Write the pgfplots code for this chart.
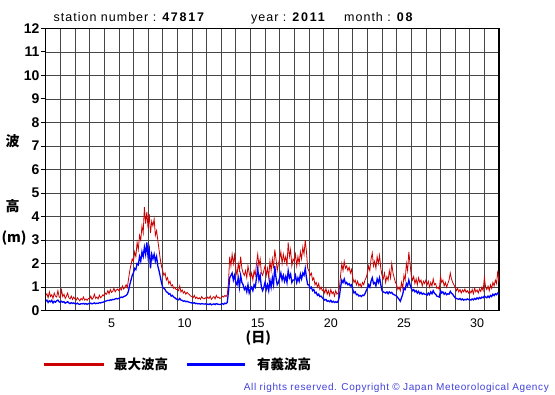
\documentclass[border=0pt]{standalone}
\usepackage{pgfplots}
\pgfplotsset{compat=1.18}
\usepackage{pgfplotstable}
\usepackage{fontspec}
\setmainfont{Liberation Sans}
\newfontfamily\jp{Noto Sans CJK JP}
\newfontfamily\titlefont{Liberation Sans}[LetterSpace=8]
\newfontfamily\digfont{Liberation Sans}[LetterSpace=14]
\newfontfamily\copyfont{Liberation Sans}[LetterSpace=6]
\definecolor{maxred}{RGB}{204,0,0}
\definecolor{sigblue}{RGB}{0,0,255}
\definecolor{copyblue}{RGB}{64,64,220}
\definecolor{gridgray}{RGB}{70,70,70}

% maximum wave height, every 2 hours, 12 values per day
\pgfplotstableread[row sep=\\]{v\\
0.65\\0.72\\0.55\\0.80\\0.60\\0.68\\0.52\\0.75\\0.62\\0.58\\0.85\\0.60\\
0.55\\0.88\\0.60\\0.70\\0.52\\0.62\\0.75\\0.55\\0.50\\0.62\\0.48\\0.58\\
0.50\\0.45\\0.55\\0.48\\0.42\\0.52\\0.46\\0.58\\0.45\\0.50\\0.44\\0.52\\
0.50\\0.62\\0.48\\0.55\\0.70\\0.52\\0.58\\0.50\\0.66\\0.55\\0.60\\0.68\\
0.62\\0.75\\0.70\\0.85\\0.72\\0.90\\0.78\\0.82\\0.95\\0.80\\0.88\\0.92\\
0.85\\0.95\\0.88\\1.05\\0.92\\1.00\\1.10\\0.98\\1.35\\1.70\\1.95\\2.20\\
2.10\\2.50\\2.30\\2.90\\2.60\\3.20\\3.00\\3.60\\3.30\\4.40\\3.70\\4.20\\
3.50\\4.10\\3.30\\3.80\\3.60\\3.90\\3.20\\3.40\\3.00\\2.60\\2.20\\1.90\\
1.70\\1.50\\1.60\\1.30\\1.40\\1.15\\1.25\\1.05\\1.10\\0.95\\1.00\\0.90\\
0.90\\0.85\\1.05\\0.80\\0.88\\0.75\\0.82\\0.70\\0.78\\0.72\\0.68\\0.62\\
0.60\\0.55\\0.65\\0.52\\0.58\\0.50\\0.55\\0.48\\0.60\\0.52\\0.50\\0.55\\
0.50\\0.58\\0.52\\0.62\\0.48\\0.55\\0.60\\0.50\\0.65\\0.55\\0.58\\0.52\\
0.55\\0.62\\0.58\\0.65\\0.60\\0.68\\1.20\\2.30\\1.90\\2.40\\2.00\\2.35\\
1.80\\1.50\\2.00\\1.70\\2.30\\1.80\\1.60\\1.50\\1.70\\1.40\\1.90\\1.60\\
1.40\\1.60\\1.30\\1.70\\1.50\\2.00\\2.40\\1.90\\2.20\\1.60\\1.50\\1.70\\
1.90\\1.50\\1.80\\1.40\\2.10\\1.70\\2.20\\1.80\\2.60\\2.20\\1.70\\2.00\\
2.20\\2.50\\2.00\\2.40\\2.10\\2.30\\1.90\\2.90\\2.30\\2.60\\1.90\\2.20\\
2.10\\2.40\\1.90\\2.30\\2.00\\2.50\\2.20\\2.70\\2.40\\3.00\\2.50\\1.80\\
1.70\\1.50\\1.60\\1.30\\1.40\\1.10\\1.20\\1.00\\1.15\\0.90\\1.00\\0.85\\
0.90\\0.75\\0.95\\0.70\\0.85\\0.65\\0.90\\0.72\\0.80\\0.62\\0.85\\0.70\\
0.75\\0.95\\1.50\\2.00\\1.70\\2.10\\1.80\\1.90\\1.70\\1.85\\1.60\\1.75\\
1.40\\1.20\\1.30\\1.10\\1.25\\1.05\\1.15\\1.00\\1.20\\1.10\\1.30\\1.40\\
1.60\\1.90\\1.70\\2.20\\2.45\\1.90\\2.10\\1.80\\2.30\\2.00\\2.35\\1.80\\
1.50\\1.35\\1.60\\1.20\\1.45\\1.30\\1.70\\1.40\\2.00\\1.60\\1.40\\1.20\\
1.10\\0.90\\1.00\\0.85\\1.20\\0.95\\1.50\\1.30\\2.00\\1.70\\2.50\\2.00\\
1.50\\1.30\\1.45\\1.15\\1.35\\1.10\\1.40\\1.20\\1.30\\1.05\\1.25\\1.15\\
1.30\\1.10\\1.25\\1.00\\1.20\\1.05\\1.35\\1.10\\1.15\\0.95\\1.00\\0.90\\
1.45\\1.20\\1.30\\1.05\\1.20\\1.00\\1.15\\1.30\\1.60\\1.35\\1.20\\1.10\\
1.00\\0.85\\0.95\\0.80\\0.90\\0.75\\0.88\\0.80\\0.92\\0.78\\0.85\\0.75\\
0.85\\0.75\\0.90\\0.72\\0.95\\0.80\\0.88\\0.75\\0.92\\0.82\\1.00\\0.85\\
1.40\\1.00\\0.90\\1.05\\0.85\\1.10\\0.95\\1.20\\1.05\\1.30\\1.15\\1.70\\
1.20\\
}\maxtab

% significant wave height
\pgfplotstableread[row sep=\\]{v\\
0.40\\0.45\\0.35\\0.42\\0.38\\0.44\\0.33\\0.40\\0.36\\0.42\\0.45\\0.38\\
0.35\\0.40\\0.36\\0.38\\0.32\\0.35\\0.38\\0.33\\0.30\\0.34\\0.31\\0.33\\
0.30\\0.29\\0.32\\0.28\\0.27\\0.30\\0.29\\0.31\\0.28\\0.30\\0.27\\0.30\\
0.30\\0.32\\0.29\\0.31\\0.33\\0.30\\0.32\\0.31\\0.34\\0.33\\0.35\\0.36\\
0.38\\0.40\\0.42\\0.44\\0.43\\0.46\\0.45\\0.48\\0.47\\0.50\\0.52\\0.50\\
0.52\\0.55\\0.58\\0.56\\0.60\\0.62\\0.65\\0.70\\0.85\\1.10\\1.30\\1.50\\
1.60\\1.80\\1.75\\2.00\\1.95\\2.30\\2.10\\2.50\\2.30\\2.70\\2.40\\2.90\\
2.30\\2.60\\1.80\\2.40\\2.20\\2.40\\2.10\\2.30\\1.90\\1.70\\1.45\\1.20\\
1.00\\0.95\\0.90\\0.80\\0.78\\0.70\\0.72\\0.62\\0.65\\0.58\\0.55\\0.50\\
0.48\\0.46\\0.52\\0.45\\0.44\\0.40\\0.42\\0.38\\0.40\\0.37\\0.36\\0.34\\
0.33\\0.32\\0.34\\0.30\\0.31\\0.29\\0.30\\0.28\\0.30\\0.29\\0.28\\0.29\\
0.27\\0.28\\0.26\\0.30\\0.25\\0.27\\0.29\\0.26\\0.30\\0.28\\0.27\\0.26\\
0.28\\0.30\\0.27\\0.32\\0.30\\0.35\\0.80\\1.40\\1.50\\1.60\\1.30\\1.50\\
1.20\\1.10\\1.40\\1.00\\1.50\\1.20\\1.10\\0.90\\1.00\\0.80\\1.10\\0.75\\
0.90\\1.00\\0.85\\1.10\\1.00\\1.40\\1.80\\1.30\\1.50\\1.00\\0.85\\1.00\\
1.20\\0.90\\1.10\\0.85\\1.30\\1.00\\1.40\\1.10\\1.90\\1.40\\1.10\\1.20\\
1.40\\1.60\\1.30\\1.50\\1.25\\1.45\\1.20\\1.70\\1.40\\1.55\\1.20\\1.30\\
1.30\\1.50\\1.20\\1.40\\1.25\\1.55\\1.35\\1.60\\1.50\\1.80\\1.40\\1.10\\
1.10\\0.95\\1.00\\0.85\\0.90\\0.75\\0.78\\0.65\\0.70\\0.60\\0.62\\0.55\\
0.50\\0.45\\0.48\\0.40\\0.42\\0.38\\0.44\\0.36\\0.40\\0.35\\0.38\\0.35\\
0.40\\0.60\\1.00\\1.30\\1.20\\1.35\\1.15\\1.20\\1.10\\1.15\\1.05\\1.10\\
0.90\\0.75\\0.80\\0.68\\0.70\\0.62\\0.65\\0.60\\0.66\\0.64\\0.72\\0.85\\
0.95\\1.10\\1.00\\1.25\\1.40\\1.15\\1.20\\1.05\\1.35\\1.20\\1.40\\1.10\\
0.85\\0.80\\0.78\\0.75\\0.80\\0.72\\0.80\\0.75\\0.78\\0.70\\0.68\\0.65\\
0.62\\0.55\\0.48\\0.40\\0.55\\0.70\\0.95\\0.90\\1.15\\1.05\\1.30\\1.10\\
0.95\\0.85\\0.90\\0.80\\0.85\\0.75\\0.82\\0.72\\0.78\\0.70\\0.74\\0.70\\
0.70\\0.66\\0.75\\0.68\\0.80\\0.72\\0.85\\0.74\\0.70\\0.62\\0.60\\0.58\\
0.85\\0.75\\0.80\\0.70\\0.76\\0.68\\0.72\\0.70\\0.82\\0.74\\0.70\\0.62\\
0.55\\0.52\\0.50\\0.48\\0.52\\0.46\\0.50\\0.45\\0.48\\0.46\\0.50\\0.47\\
0.48\\0.45\\0.50\\0.46\\0.52\\0.48\\0.55\\0.50\\0.56\\0.52\\0.58\\0.55\\
0.62\\0.58\\0.55\\0.62\\0.56\\0.65\\0.60\\0.70\\0.64\\0.72\\0.68\\0.75\\
0.70\\
}\sigtab

\begin{document}
\begin{tikzpicture}[x=1pt,y=1pt]
\path[use as bounding box] (0,0) rectangle (555,395);
\begin{axis}[
  at={(45.7pt,84.3pt)}, anchor=south west,
  scale only axis, width=453.3pt, height=282.4pt,
  xmin=1, xmax=32, ymin=0, ymax=12,
  xtick={5.5,10.5,15.5,20.5,25.5,30.5},
  xticklabels={5,10,15,20,25,30},
  minor xtick={1,...,32},
  ytick={0,...,12},
  xminorgrids=true, ymajorgrids=true, xmajorgrids=false,
  grid style={gridgray, line width=0.6pt},
  minor grid style={gridgray, line width=0.6pt},
  xtick style={draw=none},
  minor tick length=0pt,
  ytick style={black, line width=0.8pt},
  tick align=outside, ytick pos=left,
  major tick length=5pt,
  axis line style={black, line width=1.2pt},
  /pgf/number format/assume math mode=true,
  xticklabel style={font=\fontsize{12.5}{12.5}\selectfont, inner sep=1pt, yshift=-2pt},
  yticklabel style={font=\bfseries\fontsize{14}{14}\selectfont, inner sep=1pt},
  clip=true,
]
\addplot[maxred, line width=0.8pt] table[x expr=1+\coordindex/12, y=v] {\maxtab};
\addplot[sigblue, line width=1.3pt] table[x expr=1+\coordindex/12, y=v] {\sigtab};
\end{axis}

% title
\node[anchor=base west, inner sep=0] at (53.5,373) {\titlefont\fontsize{12.5}{12.5}\selectfont station number : {\digfont\bfseries 47817}};
\node[anchor=base west, inner sep=0] at (251,373) {\titlefont\fontsize{12.5}{12.5}\selectfont year : {\digfont\bfseries 2011}};
\node[anchor=base west, inner sep=0] at (344,373) {\titlefont\fontsize{12.5}{12.5}\selectfont month : {\digfont\bfseries 08}};

% y label
\node[inner sep=0] at (12.5,253.5) {\jp\bfseries\fontsize{14}{14}\selectfont 波};
\node[inner sep=0] at (12.5,189) {\jp\bfseries\fontsize{14}{14}\selectfont 高};
\node[inner sep=0] at (14,157) {\jp\bfseries\fontsize{14}{14}\selectfont (m)};
% x label
\node[inner sep=0] at (258.3,57) {\jp\bfseries\fontsize{14}{14}\selectfont (日)};

% legend
\draw[maxred, line width=3pt] (43.6,30.2) -- (104,30.2);
\node[anchor=west, inner sep=0] at (113.8,30.2) {\jp\bfseries\fontsize{13.5}{13.5}\selectfont 最大波高};
\draw[sigblue, line width=3pt] (187.3,30.2) -- (245.2,30.2);
\node[anchor=west, inner sep=0] at (256.9,30.2) {\jp\bfseries\fontsize{13.5}{13.5}\selectfont 有義波高};

% copyright
\node[anchor=base east, inner sep=0, text=copyblue] at (549,4.2) {\copyfont\fontsize{10}{10}\selectfont All rights reserved. Copyright \textcopyright{} Japan Meteorological Agency};
\end{tikzpicture}
\end{document}
